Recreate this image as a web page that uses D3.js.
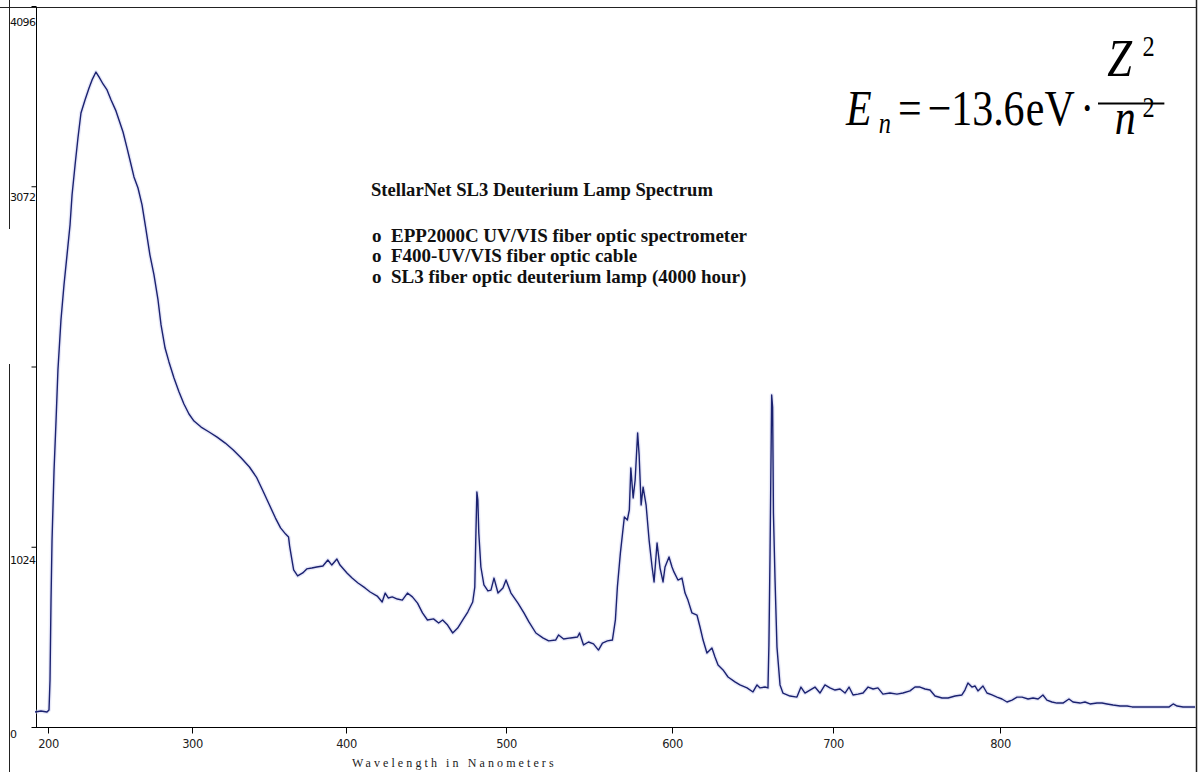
<!DOCTYPE html>
<html>
<head>
<meta charset="utf-8">
<script src="https://cdn.jsdelivr.net/npm/d3@7"></script>
<style>
  html, body { margin: 0; padding: 0; background: #fff; }
  svg { display: block; }
</style>
</head>
<body>
<svg id="chart" width="1200" height="772"></svg>
<script>
// Deuterium lamp spectrum: wavelength (nm) and detector counts
const wavelengths = [191.0,195.1,199.3,200.7,201.4,202.1,202.8,204.2,205.6,206.9,209.0,211.1,213.2,215.3,216.7,218.8,220.8,222.9,225.7,228.5,230.6,233.3,
  235.4,238.2,241.0,243.8,247.2,249.3,252.1,254.9,256.9,259.7,262.5,265.3,268.1,270.8,273.6,276.4,278.5,281.3,284.0,287.5,291.0,294.4,297.9,301.3,
  305.9,311.1,316.3,321.6,326.8,332.0,337.3,341.8,345.8,350.3,354.2,357.5,360.8,362.7,
  363.4,364.7,366.0,368.6,371.9,374.5,377.8,381.0,385.0,388.2,390.8,394.1,396.1,400.6,
  403.8,407.5,411.9,415.1,419.5,422.6,424.5,426.4,428.9,432.1,435.2,438.4,441.5,444.7,447.8,450.9,454.7,457.9,460.4,463.5,466.7,469.8,473.0,476.1,479.2,
  480.5,481.1,481.8,482.4,483.0,484.3,486.2,488.7,490.6,492.5,495.0,498.1,500.0,
  503.0,507.2,510.8,513.8,518.0,522.2,525.7,529.9,531.7,534.7,538.9,543.1,544.3,546.7,549.7,552.7,555.7,558.1,561.1,564.1,
  565.9,567.1,568.9,571.3,573.1,574.3,575.2,576.6,577.8,579.3,580.2,581.4,582.6,584.4,586.2,588.0,
  589.2,591.0,592.8,594.6,595.8,598.2,600.0,601.2,603.7,606.2,608.1,609.9,612.4,615.5,617.4,619.3,621.7,624.8,626.7,628.6,631.7,634.8,639.1,642.2,646.6,650.3,652.8,654.7,657.8,659.6,
  660.2,660.9,661.9,662.5,663.0,664.0,665.2,667.1,668.9,
  673.3,677.6,680.1,682.6,685.7,688.8,691.9,695.0,698.1,701.2,704.2,707.2,709.6,712.0,715.0,718.0,721.0,724.0,726.9,729.9,
  734.1,738.3,741.9,746.1,749.1,752.1,755.1,758.1,761.1,765.3,768.9,773.1,777.2,779.0,780.8,783.2,785.0,786.8,789.8,792.2,
  795.2,798.2,801.2,804.2,807.2,810.2,813.2,816.8,819.8,822.8,825.7,828.1,831.1,834.1,837.7,841.3,843.7,847.9,850.9,853.9,
  858.1,861.1,864.1,867.7,871.9,876.1,879.1,883.3,887.5,891.1,897.1,901.3,903.7,906.1,909.6,913.2,916.8];

const counts = [85,91,85,97,267,721,1062,1460,1744,2028,2312,2511,2681,2852,3022,3193,3346,3488,3562,3630,3676,3721,
  3693,3653,3619,3562,3500,3448,3380,3289,3221,3125,3062,2966,2823,2681,2568,2426,2284,2153,2074,1983,1903,1835,1778,1738,
  1704,1676,1647,1613,1574,1528,1477,1420,1346,1261,1187,1131,1096,1079,
  1028,960,892,858,875,898,903,909,915,949,920,954,920,875,
  846,818,790,767,744,710,761,733,739,727,721,761,739,704,648,608,614,591,608,579,534,562,608,653,710,
  795,1062,1335,1290,1102,909,807,773,778,846,761,790,835,
  761,704,648,597,534,506,489,494,523,500,506,511,534,466,483,472,437,477,489,494,
  608,795,988,1193,1176,1233,1471,1301,1403,1670,1545,1261,1363,1261,1062,909,
  824,1045,903,824,909,966,909,881,835,846,761,721,648,636,568,494,420,449,398,352,324,284,256,239,222,199,239,222,227,222,
  466,988,1886,1818,1216,835,454,239,193,
  176,170,227,193,210,227,193,239,222,210,216,193,227,182,187,193,227,216,222,187,
  193,187,193,205,227,227,216,210,176,165,165,176,182,210,250,227,233,205,233,193,
  182,170,159,142,153,170,170,159,165,159,182,153,142,136,136,159,142,136,142,131,
  136,136,131,125,119,119,114,114,114,114,114,114,131,119,114,114,114];

const xTickValues = [200, 300, 400, 500, 600, 700, 800];
const yTickValues = [0, 1024, 2048, 3072, 4096];
const yTickLabels = ["0", "1024", "", "3072", "4096"];

const titleText = "StellarNet SL3 Deuterium Lamp Spectrum";
const noteLines = [
  "o  EPP2000C UV/VIS fiber optic spectrometer",
  "o  F400-UV/VIS fiber optic cable",
  "o  SL3 fiber optic deuterium lamp (4000 hour)"
];
const xAxisTitle = "Wavelength in Nanometers";

const svg = d3.select("#chart");
const W = 1200, H = 772;

// Plot frame
const plotLeft = 36, plotRight = 1196, plotTop = 7, plotBottom = 727;

// The spectrometer's pixel axis is not linear in wavelength, so the
// x scale is a piecewise-linear calibration through the labelled ticks.
const x = d3.scaleLinear()
  .domain(xTickValues)
  .range([48, 192, 346, 506, 672, 833, 1000]);

const y = d3.scaleLinear().domain([0, 4096]).range([plotBottom, plotTop - 1]);

const ink = "#000";

// Outer frame lines
svg.append("line").attr("x1", 0).attr("x2", plotRight).attr("y1", plotTop + 0.5).attr("y2", plotTop + 0.5)
  .attr("stroke", "#222").attr("stroke-width", 1);
svg.append("line").attr("x1", plotRight + 0.5).attr("x2", plotRight + 0.5).attr("y1", 0).attr("y2", H)
  .attr("stroke", "#222").attr("stroke-width", 1.5);
svg.append("line").attr("x1", 9.5).attr("x2", 9.5).attr("y1", 0).attr("y2", 229)
  .attr("stroke", "#222").attr("stroke-width", 1);
svg.append("line").attr("x1", 9.5).attr("x2", 9.5).attr("y1", 364).attr("y2", H)
  .attr("stroke", "#222").attr("stroke-width", 1);

// Y axis
const yLabelDy = [10, 17, 0, 14, 19];
const yAxis = svg.append("g")
  .attr("transform", `translate(${plotLeft + 0.5},0)`)
  .call(d3.axisLeft(y).tickValues(yTickValues).tickSize(5).tickFormat((d, i) => yTickLabels[i]));
yAxis.select(".domain").attr("stroke", ink).attr("d", `M0,${plotTop}V${plotBottom}`);
yAxis.selectAll(".tick line").attr("stroke", ink);
yAxis.selectAll(".tick text")
  .attr("x", -26.5).attr("y", (d, i) => yLabelDy[i]).attr("dy", 0)
  .attr("text-anchor", "start")
  .attr("font-family", "'DejaVu Sans', sans-serif")
  .attr("font-size", 11)
  .attr("letter-spacing", -0.7)
  .attr("fill", "#111");

// X axis
const xAxis = svg.append("g")
  .attr("transform", `translate(0,${plotBottom + 0.5})`)
  .call(d3.axisBottom(x).tickValues(xTickValues).tickSize(6).tickFormat(d3.format("d")));
xAxis.select(".domain").attr("stroke", ink).attr("d", `M${plotLeft},0H${plotRight}`);
xAxis.selectAll(".tick line").attr("stroke", ink);
xAxis.selectAll(".tick text")
  .attr("y", 12).attr("dy", "0.71em").attr("dx", 0)
  .attr("font-family", "'DejaVu Sans', sans-serif")
  .attr("font-size", 11.5)
  .attr("letter-spacing", -0.5)
  .attr("fill", "#222");

svg.append("text")
  .attr("x", 352).attr("y", 767)
  .attr("font-family", "'Liberation Serif', serif")
  .attr("font-size", 12)
  .attr("letter-spacing", 3.1)
  .attr("fill", "#222")
  .text(xAxisTitle);

// Spectrum trace
const data = d3.zip(wavelengths, counts);
const line = d3.line().x(d => x(d[0])).y(d => y(d[1]));

svg.append("path")
  .datum(data)
  .attr("d", line)
  .attr("fill", "none")
  .attr("stroke", "#c9cdf0")
  .attr("stroke-width", 4)
  .attr("stroke-opacity", 0.45)
  .attr("stroke-linejoin", "round");

svg.append("path")
  .datum(data)
  .attr("d", line)
  .attr("fill", "none")
  .attr("stroke", "#1b2270")
  .attr("stroke-width", 1.4)
  .attr("stroke-linejoin", "round");

// Annotation block
const note = svg.append("g")
  .attr("font-family", "'Liberation Serif', 'Times New Roman', serif")
  .attr("font-weight", "bold")
  .attr("fill", "#111");
note.append("text").attr("x", 371).attr("y", 196).attr("font-size", 18.6).text(titleText);
note.selectAll("text.item")
  .data(noteLines)
  .join("text")
  .attr("class", "item")
  .attr("x", 372)
  .attr("y", (d, i) => 241.5 + i * 20.5)
  .attr("font-size", 19)
  .attr("xml:space", "preserve")
  .style("white-space", "pre")
  .text(d => d);

// Hydrogen-like energy level formula, set in a slightly condensed group
const fs = 50, supFs = 29;
const base = 125;
const formula = svg.append("g")
  .attr("transform", "translate(846,0) scale(0.84,1)")
  .attr("font-family", "'Liberation Serif', 'Times New Roman', serif")
  .attr("font-size", fs)
  .attr("fill", "#000");

formula.append("text").attr("x", 0).attr("y", base).attr("font-style", "italic").text("E");
formula.append("text").attr("x", 39).attr("y", base + 8).attr("font-style", "italic").attr("font-size", supFs).text("n");
formula.append("text").attr("x", 62).attr("y", base).text("=");
formula.append("text").attr("x", 97).attr("y", base).text("\u221213.6");
formula.append("text").attr("x", 214).attr("y", base).text("eV");
formula.append("text").attr("x", 279).attr("y", base).text("\u00b7");

formula.append("line")
  .attr("x1", 300).attr("x2", 379)
  .attr("y1", base - 21.5).attr("y2", base - 21.5)
  .attr("stroke", "#000").attr("stroke-width", 2);
formula.append("text").attr("x", 311).attr("y", base - 49)
  .attr("font-style", "italic").attr("font-size", 53).text("Z");
formula.append("text").attr("x", 353).attr("y", base - 69).attr("font-size", supFs).text("2");
formula.append("text").attr("x", 320).attr("y", base + 9).attr("font-style", "italic").text("n");
formula.append("text").attr("x", 353).attr("y", base - 8).attr("font-size", supFs).text("2");
</script>
</body>
</html>
